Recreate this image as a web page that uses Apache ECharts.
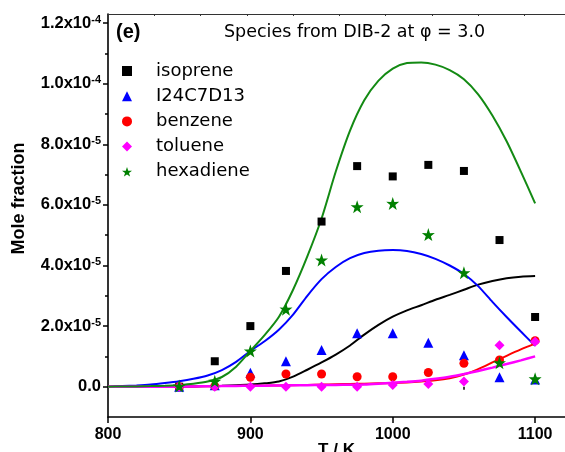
<!DOCTYPE html>
<html>
<head>
<meta charset="utf-8">
<script src="https://cdn.jsdelivr.net/npm/echarts@6/dist/echarts.min.js"></script>
<style>html,body{margin:0;padding:0;background:#fff;}#c{width:565px;height:452px;}</style>
</head>
<body>
<div id="c"></div>
<script>
// ---- data ----
const expT = [850, 875, 900, 925, 950, 975, 1000, 1025, 1050, 1075, 1100];
const isopreneExp  = [0.0, 0.84e-5, 2.0e-5, 3.82e-5, 5.45e-5, 7.28e-5, 6.94e-5, 7.32e-5, 7.12e-5, 4.84e-5, 2.3e-5];
const i24Exp       = [0.0, 0.05e-5, 0.46e-5, 0.84e-5, 1.21e-5, 1.76e-5, 1.76e-5, 1.45e-5, 1.04e-5, 0.31e-5, 0.24e-5];
const benzeneExp   = [0.0, 0.02e-5, 0.31e-5, 0.42e-5, 0.42e-5, 0.33e-5, 0.33e-5, 0.47e-5, 0.77e-5, 0.88e-5, 1.52e-5];
const tolueneExp   = [0.0, 0.0, 0.0, 0.0, 0.0, 0.0, 0.06e-5, 0.09e-5, 0.17e-5, 1.37e-5, 1.48e-5];
const hexadieneExp = [0.02e-5, 0.18e-5, 1.18e-5, 2.56e-5, 4.18e-5, 5.94e-5, 6.05e-5, 5.02e-5, 3.76e-5, 0.79e-5, 0.26e-5];

const modelT = [800, 810, 820, 830, 840, 850, 860, 870, 880, 890, 900, 910, 920, 930, 940, 950,
                960, 970, 980, 990, 1000, 1010, 1020, 1030, 1040, 1050, 1060, 1070, 1080, 1090, 1100];
const isopreneModel = [0, 0, 0, 0, 0, 0.005e-5, 0.01e-5, 0.02e-5, 0.03e-5, 0.05e-5, 0.07e-5, 0.11e-5, 0.17e-5, 0.33e-5, 0.56e-5, 0.8e-5,
                       1.06e-5, 1.36e-5, 1.72e-5, 2.04e-5, 2.31e-5, 2.52e-5, 2.69e-5, 2.87e-5, 3.03e-5, 3.2e-5, 3.37e-5, 3.49e-5, 3.58e-5, 3.63e-5, 3.65e-5];
const i24Model = [0, 0.02e-5, 0.04e-5, 0.07e-5, 0.12e-5, 0.18e-5, 0.26e-5, 0.37e-5, 0.55e-5, 0.82e-5, 1.18e-5, 1.5e-5, 1.88e-5, 2.38e-5, 3.0e-5, 3.55e-5,
                  3.95e-5, 4.24e-5, 4.41e-5, 4.49e-5, 4.51e-5, 4.48e-5, 4.38e-5, 4.22e-5, 4.0e-5, 3.72e-5, 3.32e-5, 2.8e-5, 2.3e-5, 1.82e-5, 1.35e-5];
const benzeneModel = [0, 0, 0, 0, 0, 0.005e-5, 0.01e-5, 0.015e-5, 0.02e-5, 0.025e-5, 0.03e-5, 0.035e-5, 0.04e-5, 0.05e-5, 0.06e-5, 0.07e-5,
                      0.08e-5, 0.09e-5, 0.1e-5, 0.11e-5, 0.12e-5, 0.14e-5, 0.17e-5, 0.21e-5, 0.28e-5, 0.4e-5, 0.58e-5, 0.8e-5, 1.02e-5, 1.23e-5, 1.42e-5];
const tolueneModel = [0, 0, 0, 0, 0, 0.005e-5, 0.01e-5, 0.015e-5, 0.02e-5, 0.025e-5, 0.03e-5, 0.035e-5, 0.04e-5, 0.045e-5, 0.05e-5, 0.055e-5,
                      0.06e-5, 0.065e-5, 0.075e-5, 0.1e-5, 0.13e-5, 0.16e-5, 0.2e-5, 0.26e-5, 0.33e-5, 0.42e-5, 0.52e-5, 0.63e-5, 0.75e-5, 0.87e-5, 1.0e-5];
const hexadieneModel = [0, 0.005e-5, 0.01e-5, 0.02e-5, 0.035e-5, 0.06e-5, 0.1e-5, 0.17e-5, 0.32e-5, 0.66e-5, 1.18e-5, 1.7e-5, 2.3e-5, 3.2e-5, 4.3e-5, 5.55e-5,
                        7.1e-5, 8.45e-5, 9.45e-5, 10.1e-5, 10.5e-5, 10.68e-5, 10.7e-5, 10.63e-5, 10.45e-5, 10.15e-5, 9.65e-5, 8.95e-5, 8.1e-5, 7.1e-5, 6.05e-5];

const speciesNames = ['isoprene', 'I24C7D13', 'benzene', 'toluene', 'hexadiene'];

const xTickValues = [800, 900, 1000, 1100];
const xTickLabels = ['800', '900', '1000', '1100'];
const xMinorTicks = [850, 950, 1050];
const topTickValues = [800, 832.5, 865, 897.5, 930, 962.5, 995, 1027.5, 1060, 1092.5];

const yTickValues = [0, 2e-5, 4e-5, 6e-5, 8e-5, 1e-4, 1.2e-4];
const yTickMantissa = ['0.0', '2.0x10', '4.0x10', '6.0x10', '8.0x10', '1.0x10', '1.2x10'];
const yTickExponent = ['', '-5', '-5', '-5', '-5', '-4', '-4'];
const yMinorTicks = [1e-5, 3e-5, 5e-5, 7e-5, 9e-5, 1.1e-4];

// ---- styles ----
const colors = ['#000000', '#0000ff', '#ff0000', '#ff00ff', '#008000'];
const lineColors = ['#000000', '#0000ff', '#ff0000', '#ff00ff', '#138a13'];
const STAR = 'path://M50,0 L61.8,35.1 L97.6,34.5 L68.8,56.2 L79.4,90.5 L50,70 L20.6,90.5 L31.2,56.2 L2.4,34.5 L38.2,35.1 Z';
const symbols = ['rect', 'triangle', 'circle', 'diamond', STAR];
const symbolSizes = [8, 10, 9, 10, 13];

function pairs(xs, ys) { return xs.map((x, i) => [x, ys[i]]); }

const expSets = [isopreneExp, i24Exp, benzeneExp, tolueneExp, hexadieneExp];
const modelSets = [isopreneModel, i24Model, benzeneModel, tolueneModel, hexadieneModel];

const series = [];
modelSets.forEach((m, i) => {
  series.push({
    name: speciesNames[i] + ' (model)', type: 'line', data: pairs(modelT, m),
    showSymbol: false, symbol: 'none', smooth: 0.25,
    lineStyle: { color: lineColors[i], width: i === 3 ? 2.5 : 2 },
    itemStyle: { color: lineColors[i] }, z: 2, silent: true
  });
});
expSets.forEach((d, i) => {
  series.push({
    name: speciesNames[i], type: 'scatter', data: pairs(expT, d),
    symbol: symbols[i], symbolSize: symbolSizes[i],
    itemStyle: { color: colors[i], opacity: 1 }, z: 3 + i
  });
});

const boldFont = 'Liberation Sans, Arial, sans-serif';
const normFont = 'DejaVu Sans, sans-serif';

const option = {
  animation: false,
  backgroundColor: '#ffffff',
  title: [
    { text: 'Species from DIB-2 at φ = 3.0', left: 224, top: 23, padding: 0,
      textStyle: { fontFamily: normFont, fontSize: 17.5, fontWeight: 'normal', color: '#000' } },
    { text: '(e)', left: 116, top: 22, padding: 0,
      textStyle: { fontFamily: boldFont, fontSize: 20, fontWeight: 'bold', color: '#000' } }
  ],
  legend: {
    data: speciesNames.map((n, i) => ({ name: n, icon: symbols[i] })),
    orient: 'vertical', left: 122, top: 62, padding: 0,
    itemWidth: 10, itemHeight: 10, itemGap: 7.2,
    selectedMode: false,
    textStyle: { fontFamily: normFont, fontSize: 18, color: '#000', padding: [0, 0, 0, 19] }
  },
  grid: { left: 108, right: 0, top: 14, bottom: 35, containLabel: false, outerBoundsMode: 'none' },
  xAxis: [
    {
      type: 'value', position: 'bottom', min: 800, max: 1121,
      name: 'T / K', nameLocation: 'middle', nameGap: 25, nameMoveOverlap: false,
      nameTextStyle: { fontFamily: boldFont, fontSize: 17, fontWeight: 'bold', color: '#000' },
      axisLine: { show: true, onZero: false, lineStyle: { color: '#000', width: 1.5 } },
      axisTick: { show: true, customValues: xTickValues, length: 6, lineStyle: { color: '#000', width: 1.5 } },
      axisLabel: { customValues: xTickValues, margin: 10,
        formatter: v => xTickLabels[xTickValues.indexOf(v)] || '',
        fontFamily: boldFont, fontSize: 16, fontWeight: 'bold', color: '#000' },
      splitLine: { show: false }
    },
    {
      type: 'value', position: 'bottom', min: 800, max: 1121,
      axisLine: { show: false },
      axisTick: { show: true, customValues: xMinorTicks, length: 3, lineStyle: { color: '#000', width: 1.5 } },
      axisLabel: { show: false }, splitLine: { show: false }
    },
    {
      type: 'value', position: 'top', min: 800, max: 1121,
      axisLine: { show: true, onZero: false, lineStyle: { color: '#333', width: 1 } },
      axisTick: { show: true, inside: true, customValues: topTickValues, length: 2, lineStyle: { color: '#333', width: 1 } },
      axisLabel: { show: false }, splitLine: { show: false }
    }
  ],
  yAxis: [
    {
      type: 'value', position: 'left', min: -1e-5, max: 1.23e-4,
      name: 'Mole fraction', nameLocation: 'middle', nameGap: 80, nameMoveOverlap: false,
      nameTextStyle: { fontFamily: boldFont, fontSize: 18, fontWeight: 'bold', color: '#000', padding: [0, 0, 0, 34] },
      axisLine: { show: true, onZero: false, lineStyle: { color: '#000', width: 1.6 } },
      axisTick: { show: true, customValues: yTickValues, length: 5, lineStyle: { color: '#000', width: 1.5 } },
      axisLabel: {
        customValues: yTickValues, margin: 7,
        formatter: v => {
          let idx = -1;
          yTickValues.forEach((t, k) => { if (Math.abs(t - v) < 1e-12) idx = k; });
          if (idx < 0) return '';
          return yTickExponent[idx] ? '{m|' + yTickMantissa[idx] + '}{e|' + yTickExponent[idx] + '}' : '{m|' + yTickMantissa[idx] + '}';
        },
        rich: {
          m: { fontFamily: boldFont, fontSize: 16.5, fontWeight: 'bold', color: '#000', lineHeight: 18, verticalAlign: 'middle' },
          e: { fontFamily: boldFont, fontSize: 11, fontWeight: 'bold', color: '#000', lineHeight: 18, verticalAlign: 'top' }
        }
      },
      splitLine: { show: false }
    },
    {
      type: 'value', position: 'left', min: -1e-5, max: 1.23e-4,
      axisLine: { show: false },
      axisTick: { show: true, customValues: yMinorTicks, length: 3, lineStyle: { color: '#000', width: 1.5 } },
      axisLabel: { show: false }, splitLine: { show: false }
    }
  ],
  series: series
};

const chart = echarts.init(document.getElementById('c'), null, { renderer: 'canvas' });
chart.setOption(option);
</script>
</body>
</html>
